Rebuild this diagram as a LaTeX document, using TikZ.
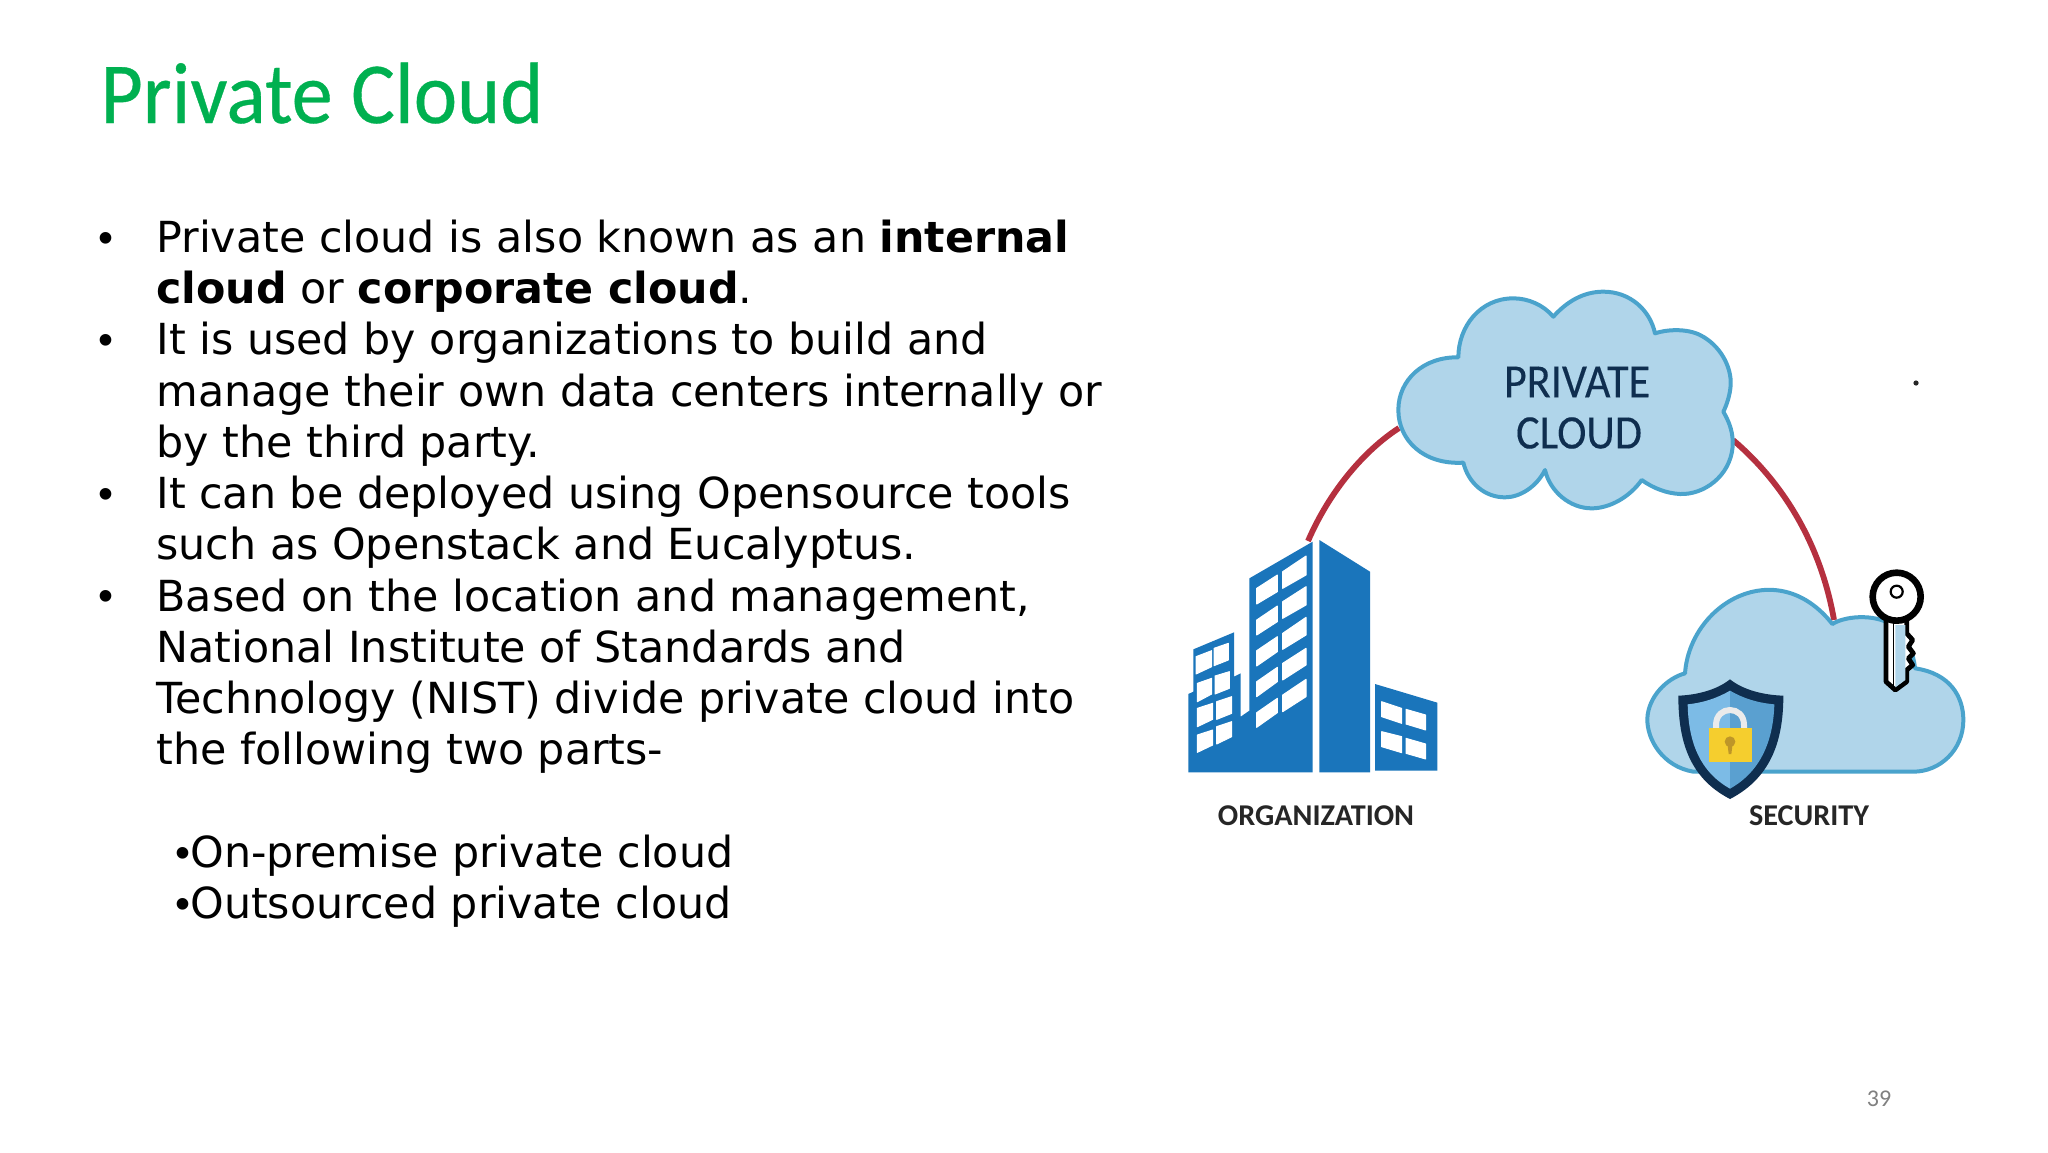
\documentclass[tikz,border=0pt]{standalone}
\usepackage{fontspec}
\setmainfont{DejaVu Sans}
\newfontfamily\carlito{Carlito}
\newfontfamily\titlefont[FakeStretch=0.945,FakeBold=0.4]{Carlito}
\newfontfamily\wordfont[FakeStretch=0.92,FakeBold=0.2]{Carlito}
\newfontfamily\bulletfont{Liberation Sans}
\newcommand{\winq}[6]{\filldraw[winfill] (#1,#2)--(#3,#4)--(#3,#5)--(#1,#6)--cycle;}
\newcommand{\dotmark}{{\bulletfont •}}
\definecolor{titlegreen}{HTML}{00B050}
\definecolor{cloudfill}{HTML}{B0D5EA}
\definecolor{cloudline}{HTML}{4AA3CC}
\definecolor{bldg}{HTML}{1A75BB}
\definecolor{arcred}{HTML}{B5303F}
\definecolor{shieldink}{HTML}{0F2E4F}
\definecolor{shieldlight}{HTML}{7CBBE6}
\definecolor{shielddark}{HTML}{5AA0D0}
\definecolor{lockyellow}{HTML}{F5CE2E}
\definecolor{lockhole}{HTML}{BE9628}
\tikzset{
  bodytext/.style={anchor=north west,inner sep=0pt,align=left,text=black,font=\fontsize{21.4}{25.63}\selectfont},
  bulletmark/.style={anchor=base west,inner sep=0pt,text=black,font=\bulletfont\fontsize{21.4}{25.63}\selectfont},
  cloudshape/.style={fill=cloudfill,draw=cloudline,line width=2pt,line join=round},
  redarc/.style={draw=arcred,line width=2.9pt},
  winfill/.style={fill=white,draw=white,line width=0.5pt,line join=round},
  caption/.style={inner sep=0pt,text=black!85,font=\carlito\bfseries\fontsize{15.1}{18}\selectfont},
  cloudword/.style={inner sep=0pt,text=shieldink,font=\wordfont\fontsize{24}{28}\selectfont},
}
\begin{document}
\begin{tikzpicture}[x=0.5pt,y=-0.5pt]
\useasboundingbox (0,0) rectangle (2048,1152);
\fill[white] (0,0) rectangle (2048,1152);
% title and text
\node[anchor=base west,inner sep=0pt,text=titlegreen,font=\titlefont\fontsize{43.5}{50}\selectfont] (title) at (100,123) {Private Cloud};
\node[bulletmark] (d1) at (98.5,252) {•};
\node[bodytext] (t1) at (156,219.5) {Private cloud is also known as an \textbf{internal}\\\textbf{cloud} or \textbf{corporate cloud}.};
\node[bulletmark] (d2) at (98.5,354.5) {•};
\node[bodytext] (t2) at (156,322) {It is used by organizations to build and\\manage their own data centers internally or\\by the third party.};
\node[bulletmark] (d3) at (98.5,508) {•};
\node[bodytext] (t3) at (156,475.5) {It can be deployed using Opensource tools\\such as Openstack and Eucalyptus.};
\node[bulletmark] (d4) at (98.5,610.75) {•};
\node[bodytext] (t4) at (156,578.25) {Based on the location and management,\\National Institute of Standards and\\Technology (NIST) divide private cloud into\\the following two parts-};
\node[bodytext] (t5) at (175,834.5) {\dotmark On-premise private cloud\\\dotmark Outsourced private cloud};
\node[text=black!50,inner sep=0pt,font=\carlito\fontsize{12}{14}\selectfont] (pg) at (1879,1099) {39};
% connector ends
\coordinate (orgtop) at (1308,541);
\coordinate (pcleft) at (1399,428);
\coordinate (pcright) at (1733,440);
\coordinate (sectop) at (1834,620);
\draw[redarc] (orgtop) .. controls (1330,490) and (1365,450) .. (pcleft);
\draw[redarc] (pcright) .. controls (1780,480) and (1820,540) .. (sectop);
% private cloud
\begin{scope}[shift={(1380,270)},scale=0.33333]
\draw[cloudshape] (235,262) .. controls (235,170) and (300,85) .. (400,85)
 .. controls (445,85) and (490,105) .. (520,140)
 .. controls (560,95) and (610,65) .. (670,65)
 .. controls (750,65) and (810,120) .. (825,190)
 .. controls (860,178) and (920,175) .. (960,195)
 .. controls (1020,225) and (1055,290) .. (1052,345)
 .. controls (1050,375) and (1040,405) .. (1030,425)
 .. controls (1050,460) and (1060,490) .. (1058,530)
 .. controls (1050,620) and (970,675) .. (900,672)
 .. controls (860,670) and (820,655) .. (785,630)
 .. controls (750,680) and (690,715) .. (635,715)
 .. controls (570,715) and (510,665) .. (495,600)
 .. controls (470,650) and (420,682) .. (375,682)
 .. controls (315,682) and (265,640) .. (250,578)
 .. controls (130,585) and (55,510) .. (55,420)
 .. controls (55,330) and (130,260) .. (235,262) -- cycle;
\end{scope}
\node[cloudword] (pc1) at (1577,382) {PRIVATE};
\node[cloudword] (pc2) at (1579,433) {CLOUD};
% building
\begin{scope}[shift={(1170,520)},scale=0.33333]
\fill[bldg] (55,757)--(55,522)--(70,515)--(70,388)--(192,337)--(192,470)--(212,460)--(212,590)--(238,572)--(238,175)--(428,65)--(428,757)--cycle;
\fill[bldg] (448,60)--(600,155)--(600,757)--(448,757)--cycle;
\fill[bldg] (615,492)--(802,548)--(802,752)--(615,752)--cycle;
\winq{260}{205}{322}{165}{215}{252}
\winq{260}{300}{322}{258}{305}{345}
\winq{260}{392}{322}{350}{395}{438}
\winq{260}{485}{322}{442}{485}{530}
\winq{260}{578}{322}{535}{578}{622}
\winq{338}{155}{408}{108}{165}{205}
\winq{338}{245}{408}{200}{255}{295}
\winq{338}{340}{408}{292}{345}{388}
\winq{338}{430}{408}{385}{435}{480}
\winq{338}{525}{408}{478}{530}{575}
\winq{78}{410}{125}{392}{440}{462}
\winq{132}{385}{175}{370}{420}{437}
\winq{82}{490}{125}{475}{522}{545}
\winq{135}{468}{178}{455}{505}{522}
\winq{82}{565}{128}{550}{598}{620}
\winq{140}{545}{185}{530}{580}{598}
\winq{82}{645}{128}{630}{675}{697}
\winq{140}{620}{185}{605}{650}{672}
\winq{635}{545}{695}{565}{610}{590}
\winq{708}{568}{767}{585}{630}{612}
\winq{635}{635}{695}{650}{698}{680}
\winq{708}{655}{767}{672}{717}{700}
\end{scope}
\node[caption] (orglabel) at (1316,816) {ORGANIZATION};
% security cloud, shield, lock, key
\begin{scope}[shift={(1620,550)},scale=0.33333]
\draw[cloudshape] (195,370) .. controls (210,160) and (470,10) .. (637,222)
 .. controls (680,195) and (780,190) .. (830,235)
 .. controls (865,270) and (880,310) .. (885,355)
 .. controls (990,370) and (1030,440) .. (1030,510)
 .. controls (1030,600) and (960,665) .. (880,665) -- (220,665)
 .. controls (130,650) and (80,570) .. (82,505)
 .. controls (85,440) and (140,385) .. (195,370) -- cycle;
\fill[shieldink] (330,388) .. controls (290,420) and (230,435) .. (175,437) .. controls (175,560) and (200,680) .. (330,747) .. controls (460,680) and (490,560) .. (490,437) .. controls (430,435) and (370,420) .. (330,388) -- cycle;
\fill[shieldlight] (330,422) .. controls (290,445) and (250,458) .. (203,463) .. controls (205,560) and (230,660) .. (330,716) -- cycle;
\fill[shielddark] (330,422) .. controls (370,445) and (410,458) .. (463,463) .. controls (460,560) and (430,660) .. (330,716) -- cycle;
\draw[white!92!black,line width=3pt] (288,540) -- (288,525) .. controls (288,465) and (372,465) .. (372,525) -- (372,540);
\fill[lockyellow] (268,535) rectangle (395,637);
\fill[lockhole] (330,575) circle (16);
\fill[lockhole] (322,580) -- (338,580) -- (334,612) -- (326,612) -- cycle;
% key
\draw[black,fill=white,line width=2.4pt,line join=round] (798,205)--(798,395)--(826,420)--(860,395)--(860,360)--(878,345)--(865,325)--(880,310)--(865,290)--(878,270)--(860,250)--(860,205)--cycle;
\fill[cloudfill] (826,225)--(856,225)--(856,390)--(826,412)--cycle;
\draw[black,line width=0.6pt] (820,215)--(820,410);
\draw[black,fill=white,line width=3.3pt] (830,140) circle (72);
\draw[black,fill=white,line width=1.1pt] (830,125) circle (18);
\end{scope}
\node[caption] (seclabel) at (1809,816) {SECURITY};
\fill[black!85] (1916,383) circle (2.6);
\end{tikzpicture}
\end{document}
